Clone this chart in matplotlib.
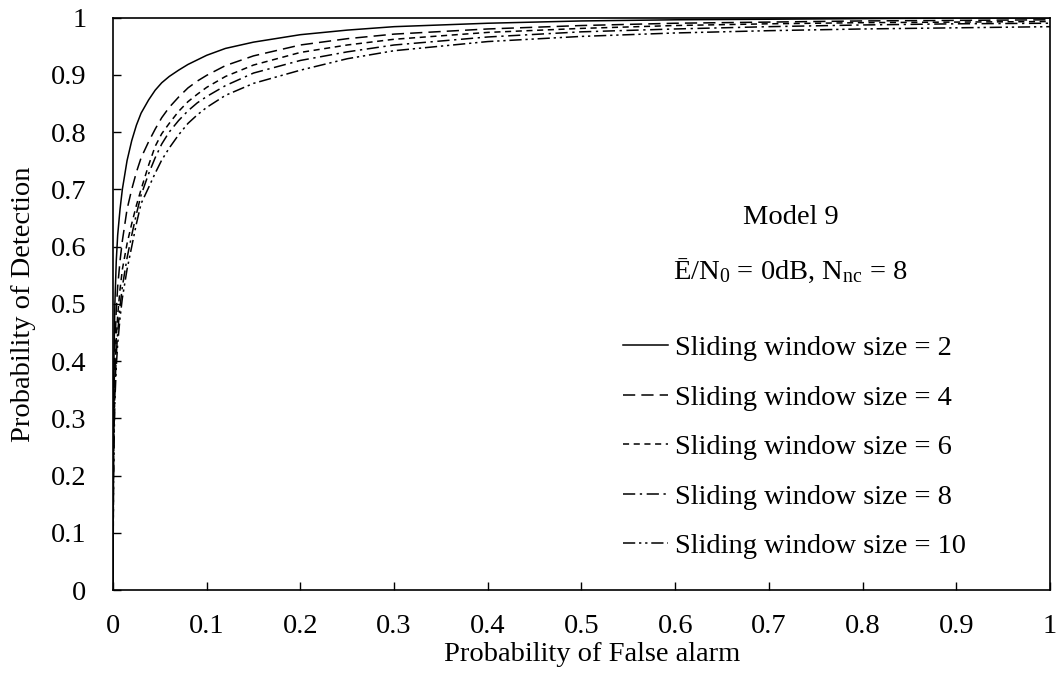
import numpy as np
import matplotlib
matplotlib.use("Agg")
from matplotlib import pyplot as plt

plt.rcParams['font.family'] = ['Liberation Serif', 'DejaVu Serif']
plt.rcParams['mathtext.fontset'] = 'custom'
plt.rcParams['mathtext.rm'] = 'Liberation Serif'
plt.rcParams['mathtext.it'] = 'Liberation Serif:italic'
plt.rcParams['mathtext.default'] = 'rm'

# ROC curves, probability of false alarm vs probability of detection
pfa = [0, 0.0005, 0.001, 0.002, 0.0035, 0.005, 0.0075, 0.01, 0.015, 0.02, 0.025, 0.03,
       0.038, 0.045, 0.052, 0.06, 0.07, 0.08, 0.09, 0.1, 0.12, 0.15, 0.2, 0.25, 0.3,
       0.4, 0.5, 0.6, 0.7, 0.8, 0.9, 1.0]

pd_w2 = [0, 0.30, 0.40, 0.50, 0.575, 0.62, 0.665, 0.70, 0.750, 0.785, 0.812, 0.833,
         0.856, 0.873, 0.886, 0.897, 0.908, 0.918, 0.926, 0.934, 0.946, 0.957, 0.970,
         0.978, 0.984, 0.990, 0.994, 0.996, 0.997, 0.998, 0.999, 0.999]
pd_w4 = [0, 0.25, 0.33, 0.42, 0.49, 0.53, 0.575, 0.61, 0.665, 0.70, 0.730, 0.755,
         0.783, 0.805, 0.825, 0.843, 0.861, 0.877, 0.889, 0.899, 0.916, 0.933, 0.952,
         0.963, 0.971, 0.980, 0.986, 0.990, 0.992, 0.994, 0.995, 0.996]
pd_w6 = [0, 0.22, 0.29, 0.37, 0.44, 0.48, 0.525, 0.56, 0.605, 0.64, 0.672, 0.700,
         0.742, 0.775, 0.797, 0.815, 0.836, 0.853, 0.866, 0.878, 0.897, 0.917, 0.939,
         0.952, 0.962, 0.974, 0.981, 0.986, 0.989, 0.991, 0.992, 0.993]
pd_w8 = [0, 0.20, 0.27, 0.35, 0.41, 0.45, 0.495, 0.53, 0.58, 0.62, 0.657, 0.690,
         0.727, 0.755, 0.779, 0.800, 0.820, 0.837, 0.851, 0.862, 0.881, 0.903, 0.925,
         0.940, 0.952, 0.966, 0.975, 0.980, 0.984, 0.987, 0.989, 0.990]
pd_w10 = [0, 0.18, 0.25, 0.33, 0.39, 0.43, 0.475, 0.51, 0.56, 0.60, 0.640, 0.675,
          0.703, 0.728, 0.751, 0.772, 0.795, 0.815, 0.830, 0.843, 0.864, 0.885, 0.908,
          0.928, 0.942, 0.958, 0.967, 0.973, 0.977, 0.980, 0.982, 0.984]

labels = ["Sliding window size = 2", "Sliding window size = 4", "Sliding window size = 6",
          "Sliding window size = 8", "Sliding window size = 10"]
curves = [pd_w2, pd_w4, pd_w6, pd_w8, pd_w10]
styles = ['-', (0, (8, 4)), (0, (4, 3)), (0, (8, 3, 1.5, 3)), (0, (8, 2.5, 1.5, 2.5, 1.5, 2.5))]

fs = 20.5
fig = plt.figure(figsize=(10.59, 6.84), dpi=100)
ax = fig.add_axes([0.1067, 0.1374, 0.8848, 0.837])

for pd, ls, lab in zip(curves, styles, labels):
    ax.plot(pfa, pd, color='black', linestyle=ls, linewidth=1.1, label=lab)

ticklabels = ['0', '0.1', '0.2', '0.3', '0.4', '0.5', '0.6', '0.7', '0.8', '0.9', '1']
ax.set_xlim(0, 1)
ax.set_ylim(0, 1)
ax.set_xticks(np.arange(0, 1.01, 0.1))
ax.set_yticks(np.arange(0, 1.01, 0.1))
ax.set_xticklabels(ticklabels)
ax.set_yticklabels(ticklabels)
ax.tick_params(direction='in', length=6, width=1, labelsize=fs)
ax.tick_params(axis='x', pad=17.5)
ax.tick_params(axis='y', pad=19)
for s in ax.spines.values():
    s.set_linewidth(1.2)

ax.set_xlabel("Probability of False alarm", fontsize=fs, labelpad=2)
ax.xaxis.label.set_x(0.511)
ax.set_ylabel("Probability of Detection", fontsize=fs, labelpad=11)

ax.text(0.723, 0.651, "Model 9", fontsize=fs, ha='center', va='center', transform=ax.transAxes)
ax.text(0.723, 0.558, "Ē/N$_0$ = 0dB, N$_\\mathrm{nc}$ = 8", fontsize=fs, ha='center', va='center',
        transform=ax.transAxes)

ax.legend(loc='upper left', bbox_to_anchor=(0.544, 0.445), frameon=False, fontsize=fs,
          handlelength=1.6, handletextpad=0.25, labelspacing=0.826, borderpad=0, borderaxespad=0)

fig.savefig('out.png', dpi=100)
